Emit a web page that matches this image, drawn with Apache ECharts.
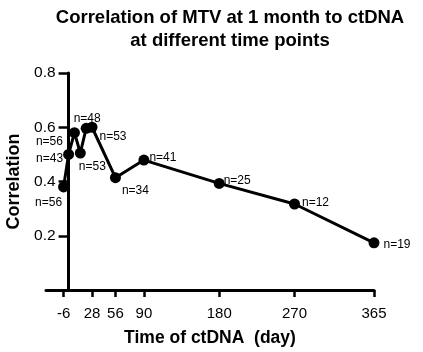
<!DOCTYPE html>
<html><head><meta charset="utf-8">
<script src="https://cdn.jsdelivr.net/npm/echarts@6/dist/echarts.min.js"></script>
<style>html,body{margin:0;padding:0;background:#fff}#c{width:423px;height:352px}</style>
</head><body><div id="c"></div>
<script>
// Data
const days = [-6, 0, 7, 14, 21, 28, 56, 90, 180, 270, 365];
const correlation = [0.38, 0.50, 0.58, 0.505, 0.596, 0.60, 0.414, 0.479, 0.393, 0.317, 0.174];
const nValues = [56, 43, 56, 53, 48, 53, 34, 41, 25, 12, 19];
const xTickDays = [-6, 28, 56, 90, 180, 270, 365];
const yTicks = [0.2, 0.4, 0.6, 0.8];

// Label placement (style only)
const labelOffsets = [[-15,16],[-19,4],[-25,9],[12,14],[1,-10],[21,9],[20,13],[19,-2],[18,-3],[21,-1],[23,2]];

const FONT = 'Liberation Sans, Arial, sans-serif';
const X_MIN = -27, X_MAX = 365, GRID_LEFT = 46, GRID_RIGHT = 49;
const plotW = 423 - GRID_LEFT - GRID_RIGHT;
const yAxisOffset = -(0 - X_MIN) / (X_MAX - X_MIN) * plotW; // place y axis at day 0

const chart = echarts.init(document.getElementById('c'));
const seriesData = days.map((d, i) => ({
  value: [d, correlation[i]],
  label: { offset: labelOffsets[i] }
}));
chart.setOption({
  animation: false,
  backgroundColor: '#fff',
  title: {
    text: 'Correlation of MTV at 1 month to ctDNA\nat different time points',
    left: 225, top: 1, textAlign: 'center',
    textStyle: { fontFamily: FONT, fontSize: 18.5, fontWeight: 'bold', color: '#000', lineHeight: 23 }
  },
  grid: { left: GRID_LEFT, right: GRID_RIGHT, top: 73, bottom: 62, outerBoundsMode: 'none' },
  xAxis: {
    type: 'value', min: X_MIN, max: X_MAX,
    name: 'Time of ctDNA  (day)', nameLocation: 'middle', nameGap: 39,
    nameTextStyle: { fontFamily: FONT, fontSize: 17.5, fontWeight: 'bold', color: '#000' },
    axisLine: { onZero: false, lineStyle: { color: '#000', width: 3 } },
    axisTick: { customValues: xTickDays, length: 7, lineStyle: { color: '#000', width: 2.5 } },
    axisLabel: { customValues: xTickDays, margin: 16, fontFamily: FONT, fontSize: 15, color: '#000' },
    splitLine: { show: false }
  },
  yAxis: {
    type: 'value', min: 0, max: 0.8, interval: 0.2,
    offset: yAxisOffset,
    name: 'Correlation', nameLocation: 'middle', nameGap: 40,
    nameTextStyle: { fontFamily: FONT, fontSize: 18, fontWeight: 'bold', color: '#000' },
    axisLine: { show: true, onZero: false, lineStyle: { color: '#000', width: 3 } },
    axisTick: { show: true, customValues: yTicks, length: 10, lineStyle: { color: '#000', width: 2.5 } },
    axisLabel: { customValues: yTicks, margin: 13, fontFamily: FONT, fontSize: 15.5, color: '#000',
      formatter: v => v.toFixed(1) },
    splitLine: { show: false }
  },
  series: [{
    type: 'line',
    data: seriesData,
    symbol: 'circle', symbolSize: 11,
    itemStyle: { color: '#000' },
    lineStyle: { color: '#000', width: 3 },
    label: {
      show: true, position: 'inside', align: 'center', verticalAlign: 'middle',
      fontFamily: FONT, fontSize: 12, color: '#000',
      formatter: p => 'n=' + nValues[p.dataIndex]
    }
  }]
});
</script>
</body></html>
